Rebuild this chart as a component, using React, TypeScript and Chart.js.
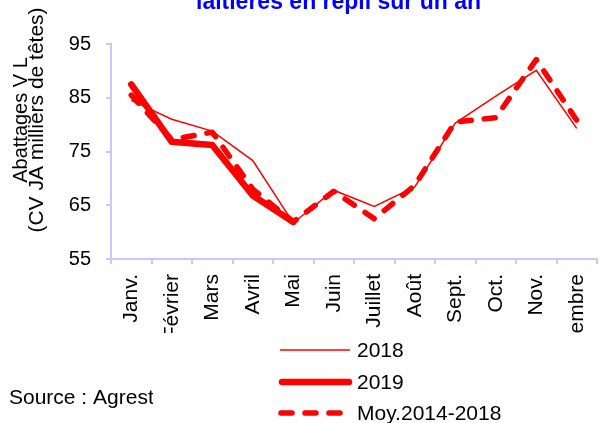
import React, { useEffect, useRef } from "react";
import { Chart, registerables } from "chart.js";

Chart.register(...registerables);

const months = ["Janv.", "Février", "Mars", "Avril", "Mai", "Juin", "Juillet", "Août", "Sept.", "Oct.", "Nov.", "Décembre"];
const series2018 = [84.5, 81, 78.8, 73.3, 61.7, 67.8, 64.8, 68.4, 80.3, 85.3, 90.1, 79.3];
const series2019 = [87.5, 76.8, 76.2, 66.8, 61.9, null, null, null, null, null, null, null];
const seriesMoy = [85.5, 77.2, 78.6, 68, 61.9, 67.6, 62.5, 68.7, 80.5, 81.3, 92.1, 80.8];
const yTicks = [55, 65, 75, 85, 95];
const legendLabels = ["2018", "2019", "Moy.2014-2018"];
const titleText = "laitières en repli sur un an";
const yTitleLines = ["Abattages V L", "(CV JA milliers de têtes)"];
const sourceText = "Source : Agrest";

const FONT = "'Liberation Sans', Arial, Helvetica, sans-serif";
const AXIS = "#c8c8fa";
const RED = "#ff0000";

const clipPlugin = {
  id: "clipXLabels",
  beforeDraw(chart: any) {
    const ctx = chart.ctx;
    ctx.save();
    ctx.beginPath();
    ctx.rect(0, 0, chart.width, 333);
    ctx.clip();
  },
  beforeDatasetsDraw(chart: any) {
    chart.ctx.restore();
  },
};

const decorPlugin = {
  id: "decor",
  afterDraw(chart: any) {
    const ctx = chart.ctx;
    // title (top part cut by the page edge)
    ctx.save();
    ctx.fillStyle = "#0000ff";
    ctx.font = `bold 23px ${FONT}`;
    ctx.textAlign = "left";
    ctx.textBaseline = "alphabetic";
    ctx.fillText(titleText, 196, 9);
    ctx.restore();

    // y axis title
    ctx.save();
    ctx.fillStyle = "#000";
    ctx.textAlign = "center";
    ctx.textBaseline = "alphabetic";
    const bases = [27, 43];
    const sizes = [20, 21];
    yTitleLines.forEach((t, i) => {
      ctx.save();
      ctx.translate(bases[i], 120);
      ctx.rotate(-Math.PI / 2);
      ctx.font = `${sizes[i]}px ${FONT}`;
      ctx.fillText(t, 0, 0);
      ctx.restore();
    });
    ctx.restore();

    // legend
    const rows = [350, 382, 413];
    chart.data.datasets.forEach((ds: any, i: number) => {
      ctx.save();
      ctx.strokeStyle = ds.borderColor;
      ctx.lineWidth = ds.borderWidth;
      ctx.setLineDash(ds.borderDash || []);
      ctx.lineCap = ds.borderCapStyle || "butt";
      ctx.beginPath();
      const x0 = i === 0 ? 280 : i === 1 ? 282 : 281;
      const x1 = i === 0 ? 350 : 349;
      ctx.moveTo(x0, rows[i]);
      ctx.lineTo(x1, rows[i]);
      ctx.stroke();
      ctx.restore();
      ctx.save();
      ctx.fillStyle = "#000";
      ctx.font = `21px ${FONT}`;
      ctx.textAlign = "left";
      ctx.textBaseline = "middle";
      ctx.fillText(legendLabels[i], 357, rows[i] + 1);
      ctx.restore();
    });

    // source
    ctx.save();
    ctx.beginPath();
    ctx.rect(0, 340, 153, 83);
    ctx.clip();
    ctx.fillStyle = "#000";
    ctx.font = `21px ${FONT}`;
    ctx.textAlign = "left";
    ctx.textBaseline = "alphabetic";
    ctx.fillText(sourceText, 9, 404);
    ctx.restore();
  },
};

export default function App() {
  const ref = useRef<HTMLCanvasElement>(null);
  useEffect(() => {
    if (!ref.current) return;
    const chart = new Chart(ref.current, {
      type: "line",
      data: {
        labels: months,
        datasets: [
          {
            label: legendLabels[0],
            data: series2018,
            borderColor: RED,
            borderWidth: 1.5,
            pointRadius: 0,
            tension: 0,
            fill: false,
          },
          {
            label: legendLabels[1],
            data: series2019,
            borderColor: RED,
            borderWidth: 6.5,
            borderCapStyle: "round",
            borderJoinStyle: "round",
            pointRadius: 0,
            tension: 0,
            fill: false,
          },
          {
            label: legendLabels[2],
            data: seriesMoy,
            borderColor: RED,
            borderWidth: 5.5,
            borderDash: [11, 13],
            borderCapStyle: "round",
            borderJoinStyle: "round",
            pointRadius: 0,
            tension: 0,
            fill: false,
          },
        ],
      },
      options: {
        responsive: false,
        animation: false,
        devicePixelRatio: 1,
        layout: { padding: { top: 44, right: 1, bottom: 0, left: 0 } },
        plugins: {
          legend: { display: false },
          title: { display: false },
          tooltip: { enabled: false },
        },
        scales: {
          x: {
            type: "category",
            offset: true,
            grid: {
              offset: true,
              drawOnChartArea: false,
              drawTicks: true,
              tickLength: 5,
              color: AXIS,
              lineWidth: 2,
            },
            border: { color: AXIS, width: 2 },
            ticks: {
              autoSkip: false,
              minRotation: 90,
              maxRotation: 90,
              padding: 10,
              color: "#000",
              font: { family: FONT, size: 21 },
            },
            afterFit: (scale: any) => {
              scale.height = 164;
            },
          },
          y: {
            min: 55,
            max: 95,
            grid: {
              drawOnChartArea: false,
              drawTicks: true,
              tickLength: 5,
              color: AXIS,
              lineWidth: 2,
            },
            border: { color: AXIS, width: 2 },
            ticks: {
              padding: 15,
              color: "#000",
              font: { family: FONT, size: 20 },
            },
            afterBuildTicks: (scale: any) => {
              scale.ticks = yTicks.map((v) => ({ value: v }));
            },
            afterFit: (scale: any) => {
              scale.width = 111;
            },
          },
        },
      },
      plugins: [clipPlugin, decorPlugin],
    });
    return () => chart.destroy();
  }, []);

  return (
    <div
      style={{
        position: "fixed",
        left: 0,
        top: 0,
        width: 608,
        height: 423,
        overflow: "hidden",
        background: "#fff",
      }}
    >
      <canvas ref={ref} width={612} height={423} style={{ display: "block", width: 612, height: 423 }} />
    </div>
  );
}
